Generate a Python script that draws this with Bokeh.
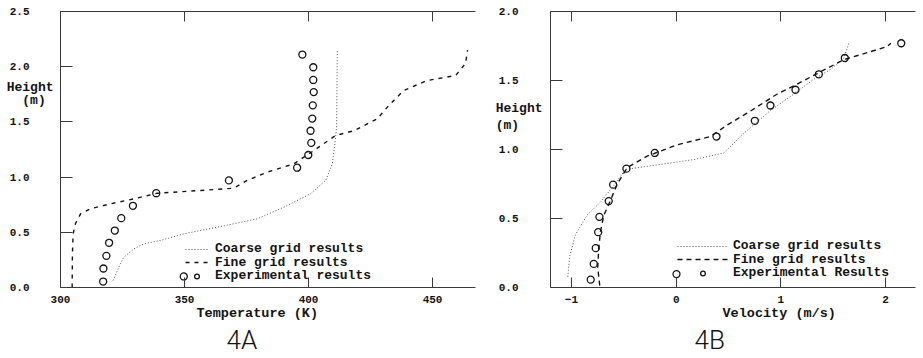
from bokeh.plotting import figure
from bokeh.models import (Range1d, LinearAxis, FixedTicker, Legend,
                          LegendItem, NumeralTickFormatter, Title)
from bokeh.layouts import row
from bokeh.embed import file_html
from bokeh.resources import INLINE

# ---------------- Fig. 4A : temperature profile ----------------
temp_ticks = [300, 350, 400, 450]
height_ticks_a = [0.0, 0.5, 1.0, 1.5, 2.0, 2.5]

temp_coarse = [321.2, 323.5, 325.5, 329.6, 333.6, 340.3, 349.7, 363.2, 379.3,
               390.0, 400.8, 406.9, 409.6, 410.6, 411.3, 411.6]
h_temp_coarse = [0.063, 0.184, 0.275, 0.35, 0.396, 0.426, 0.486, 0.546, 0.622,
                 0.727, 0.849, 0.97, 1.12, 1.30, 1.45, 2.15]

temp_fine = [304.7, 304.8, 305.1, 306.0, 308.1, 312.1, 320.2, 329.6, 339.0,
             356.5, 369.9, 375.3, 383.3, 394.1, 402.1, 410.9, 418.3, 427.7,
             432.4, 438.4, 447.8, 459.3, 463.3, 464.1]
h_temp_fine = [0.0, 0.305, 0.486, 0.577, 0.667, 0.713, 0.758, 0.803, 0.854,
               0.879, 0.90, 0.97, 1.045, 1.12, 1.24, 1.377, 1.42, 1.528,
               1.65, 1.785, 1.875, 1.92, 2.03, 2.15]

temp_exp = [397.5, 401.9, 401.9, 402.1, 401.7, 401.5, 400.8, 401.1, 399.9,
            395.4, 367.9, 338.6, 329.2, 324.5, 321.9, 319.6, 318.5, 317.3,
            317.2, 349.7]
h_temp_exp = [2.11, 1.995, 1.88, 1.77, 1.65, 1.53, 1.42, 1.31, 1.20, 1.085,
              0.97, 0.854, 0.74, 0.628, 0.516, 0.405, 0.287, 0.172, 0.054,
              0.10]

# ---------------- Fig. 4B : velocity profile ----------------
vel_ticks = [-1, 0, 1, 2]
height_ticks_b = [0.0, 0.5, 1.0, 1.5, 2.0]

vel_coarse = [-1.035, -1.016, -0.962, -0.85, -0.723, -0.596, -0.484, -0.15,
              0.168, 0.455, 0.646, 0.90, 1.123, 1.314, 1.474, 1.601, 1.649]
h_vel_coarse = [0.078, 0.228, 0.382, 0.525, 0.619, 0.738, 0.856, 0.892,
                0.927, 0.975, 1.117, 1.283, 1.402, 1.509, 1.58, 1.663, 1.77]

vel_fine = [-0.73, -0.749, -0.739, -0.723, -0.69, -0.634, -0.563, -0.468,
            -0.277, 0.01, 0.328, 0.487, 0.71, 0.965, 1.123, 1.362, 1.601,
            1.76, 2.015, 2.05]
h_vel_fine = [0.014, 0.145, 0.287, 0.406, 0.525, 0.619, 0.75, 0.868, 0.952,
              1.034, 1.094, 1.177, 1.279, 1.402, 1.461, 1.557, 1.651, 1.687,
              1.746, 1.77]

vel_exp = [2.149, 1.61, 1.362, 1.139, 0.90, 0.751, 0.385, -0.204, -0.475,
           -0.602, -0.644, -0.733, -0.745, -0.768, -0.787, -0.816, 0.003]
h_vel_exp = [1.77, 1.663, 1.545, 1.433, 1.319, 1.208, 1.094, 0.975, 0.861,
             0.745, 0.626, 0.512, 0.401, 0.285, 0.171, 0.057, 0.097]

MONO = "Liberation Mono"
CAPF = "Roboto Light, Roboto"
INK = "#141414"
AXC = "#3a3a3a"
NB = "\u00a0"


def style_axes(p, xticks, yticks, ystand):
    xa = p.xaxis[0]
    xa.ticker = FixedTicker(ticks=xticks)
    xa.major_tick_in = 10
    xa.major_tick_out = 0
    xa.minor_tick_line_color = None
    xa.major_label_standoff = 8
    xa.major_label_text_font = MONO
    xa.major_label_text_font_style = "bold"
    xa.major_label_text_font_size = "11px"
    xa.major_label_text_color = INK
    xa.axis_line_color = AXC
    xa.major_tick_line_color = AXC

    ya = p.yaxis[0]
    ya.ticker = FixedTicker(ticks=yticks)
    ya.formatter = NumeralTickFormatter(format="0.0")
    ya.major_tick_in = 12
    ya.major_tick_out = 0
    ya.minor_tick_line_color = None
    ya.major_label_standoff = ystand
    ya.major_label_text_font = MONO
    ya.major_label_text_font_style = "bold"
    ya.major_label_text_font_size = "11px"
    ya.major_label_text_color = INK
    ya.axis_line_color = AXC
    ya.major_tick_line_color = AXC

    top = LinearAxis(ticker=FixedTicker(ticks=xticks))
    top.major_tick_in = 10
    top.major_tick_out = 0
    top.minor_tick_line_color = None
    top.major_label_text_font_size = "1px"
    top.major_label_text_color = None
    top.major_label_standoff = 0
    top.axis_line_color = AXC
    top.major_tick_line_color = AXC
    p.add_layout(top, "above")

    p.xgrid.grid_line_color = None
    p.ygrid.grid_line_color = None
    p.outline_line_color = None


def height_label(p, y_word, y_unit, standoff, unit_text):
    # horizontal "Height (m)" caption, drawn as the labels of an
    # extra (line-less, tick-less) left axis
    ax = LinearAxis(ticker=FixedTicker(ticks=[y_word, y_unit]),
                    major_label_overrides={y_word: "Height",
                                           y_unit: unit_text})
    ax.axis_line_color = None
    ax.major_tick_line_color = None
    ax.minor_tick_line_color = None
    ax.major_tick_in = 0
    ax.major_tick_out = 0
    ax.major_label_standoff = standoff
    ax.major_label_text_font = MONO
    ax.major_label_text_font_style = "bold"
    ax.major_label_text_font_size = "13px"
    ax.major_label_text_color = INK
    p.add_layout(ax, "left")


def legend_row(p, label, rend, x, y, glyph_w, standoff):
    lg = Legend(items=[LegendItem(label=label, renderers=[rend])],
                location=(x, y), border_line_color=None,
                background_fill_alpha=0, label_text_font=MONO,
                label_text_font_style="bold", label_text_font_size="13px",
                label_text_color=INK, glyph_width=glyph_w, glyph_height=12,
                label_height=12, label_standoff=standoff, spacing=0,
                padding=0, margin=0)
    p.add_layout(lg)


def below_title(p, txt, offset, standoff, size, font, style):
    p.add_layout(Title(text=txt, align="left", offset=offset,
                       standoff=standoff, text_font=font,
                       text_font_size=size, text_font_style=style,
                       text_color=INK), "below")


# ---------------- left figure ----------------
pa = figure(width=480, height=358, x_range=Range1d(300, 467.3),
            y_range=Range1d(0, 2.5), output_backend="svg",
            toolbar_location=None, min_border_left=60, min_border_right=5,
            min_border_top=11, min_border_bottom=71)
style_axes(pa, temp_ticks, height_ticks_a, 31)
height_label(pa, 1.812, 1.694, -47, "(m)" + NB)

ra1 = pa.line(temp_coarse, h_temp_coarse, line_color="#555555",
              line_width=1, line_dash="1 2")
ra2 = pa.line(temp_fine, h_temp_fine, line_color=INK, line_width=1.4,
              line_dash="4 5")
ra3 = pa.scatter(temp_exp, h_temp_exp, marker="circle", size=7,
                 fill_color=None, line_color=INK, line_width=1.3)
legend_row(pa, "Coarse grid results", ra1, 125, 30.6, 23, 7)
legend_row(pa, "Fine grid results", ra2, 125, 17.1, 23, 7)
legend_row(pa, "Experimental results", ra3, 125, 3.6, 23, 7)

below_title(pa, "Temperature (K)", 136, -3, "13.5px", MONO, "bold")
below_title(pa, "4A", 166, 7, "26px", CAPF, "normal")

# ---------------- right figure ----------------
pb = figure(width=442, height=358, x_range=Range1d(-1.2, 2.285),
            y_range=Range1d(0, 2.0), output_backend="svg",
            toolbar_location=None, min_border_left=70, min_border_right=7,
            min_border_top=6, min_border_bottom=71)
style_axes(pb, vel_ticks, height_ticks_b, 32)
height_label(pb, 1.295, 1.174, -47, "(m)" + NB * 3)

rb1 = pb.line(vel_coarse, h_vel_coarse, line_color="#555555",
              line_width=1, line_dash="1 2")
rb2 = pb.line(vel_fine, h_vel_fine, line_color=INK, line_width=1.4,
              line_dash="5 4")
rb3 = pb.scatter(vel_exp, h_vel_exp, marker="circle", size=7,
                 fill_color=None, line_color=INK, line_width=1.3)
legend_row(pb, "Coarse grid results", rb1, 127, 33.6, 51, 5)
legend_row(pb, "Fine grid results", rb2, 127, 20.1, 51, 5)
legend_row(pb, "Experimental Results", rb3, 127, 6.6, 51, 5)

below_title(pb, "Velocity (m/s)", 172, -3, "13.5px", MONO, "bold")
below_title(pb, "4B", 144, 7, "26px", CAPF, "normal")

layout = row(pa, pb)
open("out.html", "w").write(file_html(layout, INLINE))
